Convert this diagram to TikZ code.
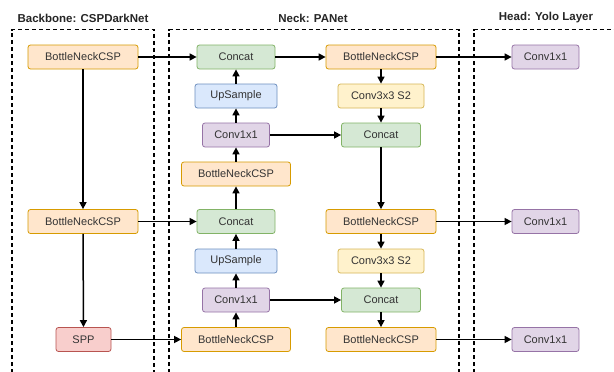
\documentclass[tikz,border=0pt]{standalone}
\usepackage{fontspec}
\setmainfont{Liberation Sans}
\usetikzlibrary{arrows.meta}
\begin{document}
\begin{tikzpicture}[x=1pt,y=-1pt,
  blk/.style={draw, rounded corners=2.5pt, line width=0.8pt, minimum height=24pt,
    inner sep=0pt, font=\fontsize{11}{13}\selectfont, text=black!80},
  orange/.style={blk, fill={rgb,255:red,255;green,230;blue,204}, draw={rgb,255:red,215;green,155;blue,0}},
  green/.style={blk, fill={rgb,255:red,213;green,232;blue,212}, draw={rgb,255:red,130;green,179;blue,102}},
  blue/.style={blk, fill={rgb,255:red,218;green,232;blue,252}, draw={rgb,255:red,108;green,142;blue,191}},
  purple/.style={blk, fill={rgb,255:red,225;green,213;blue,231}, draw={rgb,255:red,150;green,115;blue,166}},
  yellow/.style={blk, fill={rgb,255:red,255;green,242;blue,204}, draw={rgb,255:red,214;green,182;blue,86}},
  red/.style={blk, fill={rgb,255:red,248;green,206;blue,204}, draw={rgb,255:red,184;green,84;blue,80}},
  conn/.style={line width=1.5pt, -{Triangle[length=7pt,width=7pt]}},
  region/.style={line width=1.5pt, dash pattern=on 4pt off 3pt},
  title/.style={font=\bfseries\fontsize{11.5}{13}\selectfont, text=black!85}]
\useasboundingbox (0,0) rectangle (614,372);
\fill[white] (0,0) rectangle (614,372);

% dashed regions
\draw[region] (12,380) -- (12,29.5) -- (154,29.5) -- (154,380);
\draw[region] (169,380) -- (169,29.5) -- (459,29.5) -- (459,380);
\draw[region] (474,380) -- (474,29.5) -- (620,29.5);

% region titles
\node[title] (tb) at (83,18) {Backbone: CSPDarkNet};
\node[title] (tn) at (313,18) {Neck: PANet};
\node[title] (th) at (546,18) {Head: Yolo Layer};

% backbone
\node[orange, minimum width=110pt] (b1) at (83,57) {BottleNeckCSP};
\node[orange, minimum width=110pt] (b2) at (83,221.5) {BottleNeckCSP};
\node[red, minimum width=55pt] (spp) at (83.5,339.5) {SPP};

% neck, top-down path
\node[green, minimum width=78pt] (c1) at (236,57) {Concat};
\node[blue, minimum width=82pt] (u1) at (236,96) {UpSample};
\node[purple, minimum width=67pt] (k1) at (236,135) {Conv1x1};
\node[orange, minimum width=109pt] (n1) at (236,174) {BottleNeckCSP};
\node[green, minimum width=78pt] (c2) at (236,221.5) {Concat};
\node[blue, minimum width=82pt] (u2) at (236,261) {UpSample};
\node[purple, minimum width=67pt] (k2) at (236,300) {Conv1x1};
\node[orange, minimum width=109pt] (n2) at (236,339.5) {BottleNeckCSP};

% neck, bottom-up path
\node[orange, minimum width=110pt] (r1) at (381,57) {BottleNeckCSP};
\node[yellow, minimum width=86pt] (s1) at (381,96) {Conv3x3 S2};
\node[green, minimum width=79pt] (rc1) at (381,135) {Concat};
\node[orange, minimum width=110pt] (r2) at (381,221.5) {BottleNeckCSP};
\node[yellow, minimum width=86pt] (s2) at (381,261) {Conv3x3 S2};
\node[green, minimum width=79pt] (rc2) at (381,300) {Concat};
\node[orange, minimum width=110pt] (r3) at (381,339.5) {BottleNeckCSP};

% head
\node[purple, minimum width=67pt] (h1) at (545.5,57) {Conv1x1};
\node[purple, minimum width=67pt] (h2) at (545.5,221.5) {Conv1x1};
\node[purple, minimum width=67pt] (h3) at (545.5,339.5) {Conv1x1};

% backbone flow
\draw[conn] (b1) -- (b2);
\draw[conn] (b2) -- (spp);
\draw[conn] (b1) -- (c1);
\draw[conn] (b2) -- (c2);
\draw[conn] (spp) -- (n2);

% top-down
\draw[conn] (n2) -- (k2);
\draw[conn] (k2) -- (u2);
\draw[conn] (u2) -- (c2);
\draw[conn] (c2) -- (n1);
\draw[conn] (n1) -- (k1);
\draw[conn] (k1) -- (u1);
\draw[conn] (u1) -- (c1);

% bottom-up
\draw[conn] (c1) -- (r1);
\draw[conn] (r1) -- (s1);
\draw[conn] (s1) -- (rc1);
\draw[conn] (k1) -- (rc1);
\draw[conn] (rc1) -- (r2);
\draw[conn] (r2) -- (s2);
\draw[conn] (s2) -- (rc2);
\draw[conn] (k2) -- (rc2);
\draw[conn] (rc2) -- (r3);

% head
\draw[conn] (r1) -- (h1);
\draw[conn] (r2) -- (h2);
\draw[conn] (r3) -- (h3);
\end{tikzpicture}
\end{document}
